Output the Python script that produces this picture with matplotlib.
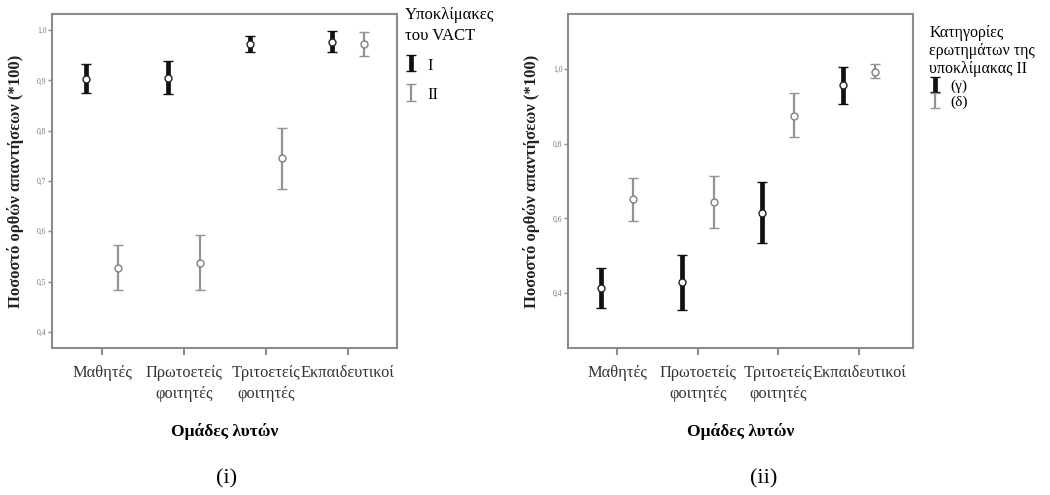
import matplotlib
matplotlib.use("Agg")
import matplotlib.pyplot as plt
import numpy as np

plt.rcParams['font.family'] = ['Liberation Serif', 'DejaVu Serif']

categories = ["Μαθητές", "Πρωτοετείς\nφοιτητές", "Τριτοετείς\nφοιτητές", "Εκπαιδευτικοί"]

# Panel (i): subscales I and II of VACT
i_mean = [0.903, 0.905, 0.973, 0.977]
i_low = [0.875, 0.872, 0.957, 0.956]
i_high = [0.932, 0.938, 0.988, 0.998]
ii_mean = [0.528, 0.537, 0.745, 0.973]
ii_low = [0.484, 0.484, 0.685, 0.949]
ii_high = [0.573, 0.593, 0.806, 0.997]

# Panel (ii): question categories of subscale II
g_mean = [0.413, 0.429, 0.615, 0.957]
g_low = [0.360, 0.355, 0.533, 0.907]
g_high = [0.467, 0.502, 0.698, 1.005]
d_mean = [0.651, 0.643, 0.875, 0.993]
d_low = [0.593, 0.575, 0.819, 0.975]
d_high = [0.709, 0.713, 0.935, 1.012]

yticks_i = [0.4, 0.5, 0.6, 0.7, 0.8, 0.9, 1.0]
yticks_ii = [0.4, 0.6, 0.8, 1.0]

GREY = '#939393'
SPINE = '#8c8c8c'

fig = plt.figure(figsize=(10.5, 4.95), dpi=100)
axL = fig.add_axes([0.0495, 0.297, 0.3285, 0.6747])
axR = fig.add_axes([0.541, 0.297, 0.3285, 0.6747])


def draw(ax, m1, lo1, hi1, m2, lo2, hi2, off):
    x = np.arange(len(categories))
    m1, lo1, hi1 = map(np.array, (m1, lo1, hi1))
    m2, lo2, hi2 = map(np.array, (m2, lo2, hi2))
    h1 = ax.errorbar(x - off, m1, yerr=[m1 - lo1, hi1 - m1], fmt='o', color='black',
                     ecolor='#111111', elinewidth=3.4, capsize=3.8, capthick=2.8,
                     ms=5, mfc='white', mec='#222222', mew=1.0, zorder=3)
    h2 = ax.errorbar(x + off, m2, yerr=[m2 - lo2, hi2 - m2], fmt='o', color=GREY,
                     ecolor=GREY, elinewidth=1.6, capsize=3.8, capthick=1.6,
                     ms=5, mfc='white', mec='#808080', mew=1.0, zorder=3)
    ax.set_xticks(x)
    ax.set_xticklabels(categories, fontsize=11.8, color='#333333', linespacing=1.45)
    for s in ax.spines.values():
        s.set_color(SPINE)
        s.set_linewidth(1.5)
    ax.tick_params(axis='x', length=5, width=1.5, color=SPINE, pad=7)
    ax.tick_params(axis='y', length=3, width=1, color=SPINE, labelsize=5.5,
                   labelcolor='#777777', pad=1)
    ax.set_xlabel("Ομάδες λυτών", fontsize=12.5, fontweight='bold', labelpad=15)
    ax.set_ylabel("Ποσοστό ορθών απαντήσεων (*100)", fontsize=12,
                  fontweight='bold', labelpad=9, color='#222222')
    return h1, h2


def fmt_ticks(ax, ticks):
    ax.set_yticks(ticks)
    ax.set_yticklabels([f"{t:.1f}".replace('.', ',') for t in ticks])


h1, h2 = draw(axL, i_mean, i_low, i_high, ii_mean, ii_low, ii_high, 0.195)
axL.set_xlim(-0.61, 3.6)
axL.set_ylim(0.368, 1.032)
fmt_ticks(axL, yticks_i)

g1, g2 = draw(axR, g_mean, g_low, g_high, d_mean, d_low, d_high, 0.2)
axR.set_xlim(-0.607, 3.67)
axR.set_ylim(0.253, 1.147)
fmt_ticks(axR, yticks_ii)

legL = fig.legend([h1, h2], ["I", "II"], title="Υποκλίμακες\nτου VACT",
                  loc='upper left', bbox_to_anchor=(0.371, 1.016), frameon=False,
                  fontsize=12, title_fontsize=12, alignment='left',
                  handlelength=0.8, handletextpad=0.6, labelspacing=0.7,
                  borderaxespad=0.5, markerscale=0.01, handleheight=1.1)
legL.get_title().set_linespacing(1.45)
legR = fig.legend([g1, g2], ["(γ)", "(δ)"], title="Κατηγορίες\nερωτημάτων της\nυποκλίμακας II",
                  loc='upper left', bbox_to_anchor=(0.872, 0.977), frameon=False,
                  fontsize=11, title_fontsize=11.5, alignment='left',
                  handlelength=0.8, handletextpad=0.6, labelspacing=0.15,
                  borderaxespad=0.5, markerscale=0.01, handleheight=0.7)
legR.get_title().set_linespacing(1.15)

fig.text(0.216, 0.033, "(i)", fontsize=16, ha='center', va='center')
fig.text(0.727, 0.033, "(ii)", fontsize=16, ha='center', va='center')

fig.savefig("out.png", dpi=100, facecolor='white')
